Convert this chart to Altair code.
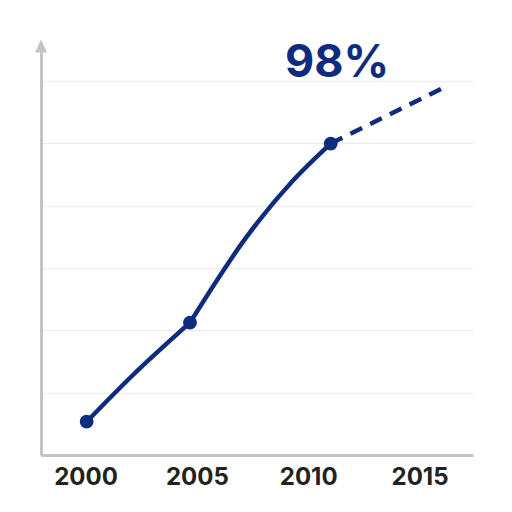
import altair as alt
import pandas as pd

# solid curve, two segments
seg = ["a", "a", "a", "b", "b", "b", "b"]
solid_year = [2000.05, 2002.13, 2004.69, 2004.69, 2007.24, 2009.33, 2011.01]
solid_val = [8.9, 21.4, 35.4, 35.4, 58.4, 73.5, 83.3]

# markers
pt_year = [2000.05, 2004.69, 2011.01]
pt_val = [8.9, 35.4, 83.3]

# dashed projection
dash_year = [2011.01, 2016.14]
dash_val = [83.3, 98.4]

label_text = ["98%"]
label_year = [2011.3]
label_val = [101.1]

x_ticks = [2000, 2005, 2010, 2015]
grid_vals = [100 / 6 * k for k in range(1, 7)]

X_MIN, X_MAX = 1998, 2017.4
Y_MIN, Y_MAX = 0, 109.4

NAVY = "#0e2c7e"
GRAY = "#c4c4c4"

xs = alt.Scale(domain=[X_MIN, X_MAX], nice=False, zero=False)
ys = alt.Scale(domain=[Y_MIN, Y_MAX], nice=False, zero=False)

solid_df = pd.DataFrame({"seg": seg, "year": solid_year, "val": solid_val})
pt_df = pd.DataFrame({"year": pt_year, "val": pt_val})
dash_df = pd.DataFrame({"year": dash_year, "val": dash_val})
lab_df = pd.DataFrame({"year": label_year, "val": label_val, "t": label_text})

xax = alt.Axis(values=x_ticks, format="d", ticks=False, grid=False, domainColor=GRAY,
               domainWidth=3, labelFontSize=24, labelFont="Inter", labelFontWeight="bold",
               labelColor="#222222", labelPadding=10, title=None)
yax = alt.Axis(values=grid_vals, labels=False, ticks=False, grid=True, gridColor="#ebebeb",
               gridWidth=1, domainColor=GRAY, domainWidth=3, title=None)

solid = alt.Chart(solid_df).mark_line(color=NAVY, strokeWidth=4.5, interpolate="monotone",
                                      strokeCap="round").encode(
    x=alt.X("year:Q", scale=xs, axis=xax),
    y=alt.Y("val:Q", scale=ys, axis=yax),
    detail="seg:N",
)

dashed = alt.Chart(dash_df).mark_line(color=NAVY, strokeWidth=4.5, strokeDash=[13, 9]).encode(
    x=alt.X("year:Q", scale=xs),
    y=alt.Y("val:Q", scale=ys),
)

points = alt.Chart(pt_df).mark_circle(color=NAVY, size=190, opacity=1).encode(
    x=alt.X("year:Q", scale=xs),
    y=alt.Y("val:Q", scale=ys),
)

label = alt.Chart(lab_df).mark_text(color=NAVY, fontSize=45, font="Inter", fontWeight="bold",
                                    baseline="alphabetic", align="center").encode(
    x=alt.X("year:Q", scale=xs),
    y=alt.Y("val:Q", scale=ys),
    text="t:N",
)

arrow = alt.Chart(pd.DataFrame({"a": [0]})).mark_point(
    shape="M0,-1L-0.92,1L0.92,1Z", filled=True, color=GRAY, size=169, opacity=1
).encode(
    x=alt.datum(X_MIN, scale=xs),
    y=alt.datum(Y_MAX, scale=ys),
)

chart = alt.layer(solid, dashed, points, label, arrow).properties(
    width=432, height=409,
    background="white",
    autosize=alt.AutoSizeParams(type="none"),
    padding={"left": 33, "top": 38, "right": 20, "bottom": 40},
).configure_view(stroke=None, strokeWidth=0)

chart.save("out.html", embed_options={"renderer": "svg", "actions": False})
